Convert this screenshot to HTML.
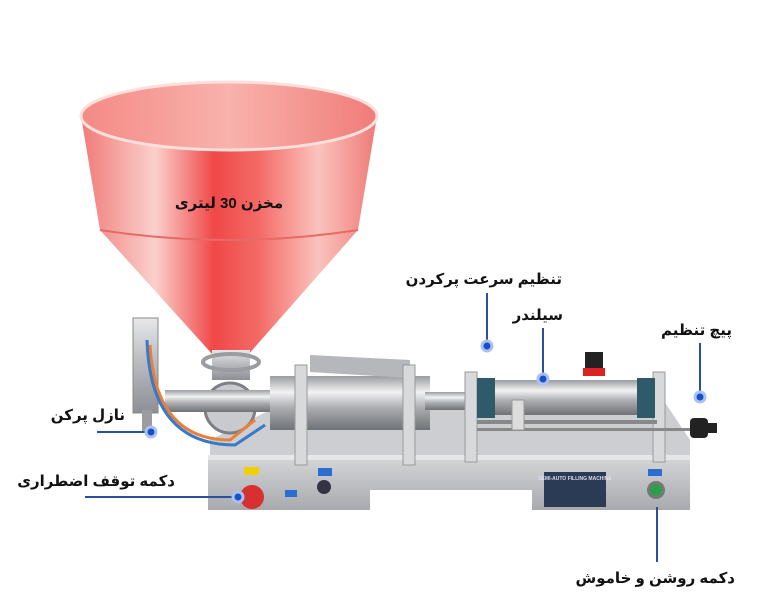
<!DOCTYPE html>
<html><head><meta charset="utf-8"><style>
html,body{margin:0;padding:0;background:#fff;width:763px;height:614px;overflow:hidden}
svg{display:block}
text{font-family:"Liberation Sans","DejaVu Sans",sans-serif;font-weight:bold;fill:#111}
</style></head><body>
<svg width="763" height="614" viewBox="0 0 763 614" xmlns="http://www.w3.org/2000/svg">
<defs>
<linearGradient id="hop" x1="0" x2="1">
<stop offset="0" stop-color="#f07a78"/><stop offset="0.25" stop-color="#fbd0cc"/><stop offset="0.45" stop-color="#f04848"/><stop offset="0.6" stop-color="#f36a66"/><stop offset="0.8" stop-color="#fbc3be"/><stop offset="1" stop-color="#ee7a76"/>
</linearGradient>
<linearGradient id="inner" x1="0" x2="1">
<stop offset="0" stop-color="#f48a86"/><stop offset="0.5" stop-color="#f9b2ac"/><stop offset="1" stop-color="#f07c78"/>
</linearGradient>
<linearGradient id="steel" x1="0" y1="0" x2="0" y2="1">
<stop offset="0" stop-color="#e8e8ea"/><stop offset="0.4" stop-color="#bfc1c5"/><stop offset="1" stop-color="#8c8f94"/>
</linearGradient>
<linearGradient id="tube" x1="0" y1="0" x2="0" y2="1">
<stop offset="0" stop-color="#9a9ca0"/><stop offset="0.3" stop-color="#f2f2f2"/><stop offset="0.6" stop-color="#a9abaf"/><stop offset="1" stop-color="#6f7276"/>
</linearGradient>
<linearGradient id="box" x1="0" y1="0" x2="0" y2="1">
<stop offset="0" stop-color="#d6d7d9"/><stop offset="1" stop-color="#a8aaae"/>
</linearGradient>
</defs>

<path d="M81 116 L100 230 L213 355 L248 355 L358 230 L377 116 Z" fill="url(#hop)"/>
<path d="M100 230 Q229 250 358 230" fill="none" stroke="#e86a66" stroke-width="2"/>
<ellipse cx="229" cy="116" rx="148" ry="34" fill="url(#inner)" stroke="#fde0dc" stroke-width="3"/>
<text x="229" y="208" font-size="15" text-anchor="middle">مخزن 30 لیتری</text>

<polygon points="210,440 300,395 660,395 690,440 690,460 210,460" fill="#cdced1"/>
<rect x="208" y="455" width="482" height="55" fill="url(#box)"/>
<rect x="370" y="490" width="162" height="22" fill="#fff"/>
<rect x="208" y="455" width="482" height="5" fill="#e6e7e9"/>

<rect x="212" y="350" width="38" height="30" fill="url(#steel)"/>
<ellipse cx="231" cy="362" rx="28" ry="8" fill="none" stroke="#9a9ca0" stroke-width="4"/>
<circle cx="230" cy="408" r="25" fill="#c8cacd" stroke="#7c7f84" stroke-width="3"/>
<rect x="165" y="390" width="110" height="22" fill="url(#tube)"/>
<rect x="270" y="376" width="160" height="54" fill="url(#tube)"/>
<rect x="425" y="392" width="45" height="18" fill="url(#tube)"/>
<polygon points="310,355 410,360 410,378 310,372" fill="#b5b7ba"/>
<rect x="295" y="365" width="12" height="100" fill="#d8d9db" stroke="#999" stroke-width="1"/>
<rect x="403" y="365" width="12" height="100" fill="#d8d9db" stroke="#999" stroke-width="1"/>

<rect x="133" y="318" width="25" height="95" fill="url(#steel)" stroke="#888" stroke-width="1"/>
<rect x="142" y="410" width="10" height="22" fill="#9a9ca0"/>
<path d="M150 345 Q155 440 230 440 L255 420" fill="none" stroke="#e8803a" stroke-width="3"/>
<path d="M147 340 Q150 445 235 445 L265 425" fill="none" stroke="#3a78c8" stroke-width="3"/>

<rect x="465" y="372" width="12" height="90" fill="#d8d9db" stroke="#999" stroke-width="1"/>
<rect x="653" y="372" width="12" height="90" fill="#d8d9db" stroke="#999" stroke-width="1"/>
<rect x="477" y="378" width="18" height="40" fill="#2f5a6a"/>
<rect x="637" y="378" width="18" height="40" fill="#2f5a6a"/>
<rect x="495" y="380" width="142" height="35" fill="url(#tube)"/>
<rect x="477" y="420" width="180" height="4" fill="#888"/>
<rect x="477" y="428" width="230" height="3" fill="#888"/>
<rect x="585" y="352" width="18" height="22" fill="#222"/>
<rect x="583" y="368" width="22" height="8" fill="#d22"/>
<rect x="512" y="400" width="12" height="30" fill="#ddd" stroke="#999"/>
<rect x="690" y="418" width="18" height="20" rx="4" fill="#222"/>
<rect x="705" y="423" width="12" height="10" fill="#222"/>

<rect x="244" y="467" width="15" height="8" fill="#f0d000"/>
<circle cx="252" cy="497" r="12" fill="#d83030"/>
<rect x="285" y="490" width="12" height="7" fill="#2a6fd0"/>
<rect x="318" y="468" width="14" height="8" fill="#2a6fd0"/>
<circle cx="324" cy="487" r="7" fill="#334"/>
<rect x="544" y="472" width="62" height="35" fill="#2b3a55"/>
<text x="575" y="480" font-size="5" text-anchor="middle" style="fill:#dde">SEMI-AUTO FILLING MACHINE</text>
<rect x="648" y="469" width="14" height="7" fill="#2a6fd0"/>
<circle cx="656" cy="490" r="9" fill="#777"/>
<circle cx="656" cy="490" r="6" fill="#2aa04a"/>

<g stroke="#2a4fa0" stroke-width="2" fill="none">
<line x1="97" y1="432" x2="150" y2="432"/>
<line x1="85" y1="497" x2="237" y2="497"/>
<line x1="487" y1="293" x2="487" y2="346"/>
<line x1="543" y1="328" x2="543" y2="379"/>
<line x1="700" y1="343" x2="700" y2="397"/>
<line x1="657" y1="507" x2="657" y2="562"/>
</g>
<g fill="#1a4fc8" stroke="#a9c2f0" stroke-width="3">
<circle cx="151" cy="432" r="5"/>
<circle cx="238" cy="497" r="5"/>
<circle cx="487" cy="346" r="5"/>
<circle cx="543" cy="379" r="5"/>
<circle cx="700" cy="397" r="5"/>
</g>

<text x="125" y="420" font-size="15" text-anchor="end">نازل پرکن</text>
<text x="175" y="486" font-size="15" text-anchor="end">دکمه توقف اضطراری</text>
<text x="562" y="284" font-size="15" text-anchor="end">تنظیم سرعت پرکردن</text>
<text x="563" y="320" font-size="15" text-anchor="end">سیلندر</text>
<text x="732" y="335" font-size="15" text-anchor="end">پیچ تنظیم</text>
<text x="735" y="583" font-size="15" text-anchor="end">دکمه روشن و خاموش</text>
</svg>
</body></html>
